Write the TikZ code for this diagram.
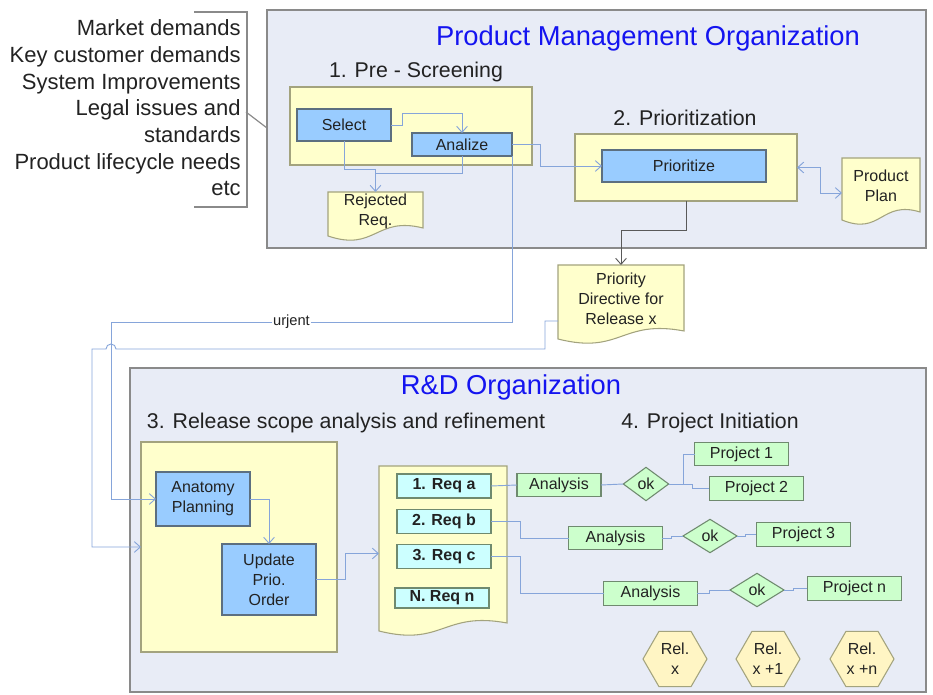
\documentclass[tikz,border=0pt]{standalone}
\usepackage{fontspec}
\setmainfont{Liberation Sans}
\usepackage{xcolor}
\usepackage{tikz}
\usetikzlibrary{shapes.geometric, arrows.meta, calc}
\definecolor{orgfill}{HTML}{E8ECF6}
\definecolor{orgline}{HTML}{8A8A8A}
\definecolor{stagefill}{HTML}{FFFFCC}
\definecolor{stageline}{HTML}{A3A37E}
\definecolor{procfill}{HTML}{99CCFF}
\definecolor{procline}{HTML}{5C6F80}
\definecolor{reqfill}{HTML}{CCFFFF}
\definecolor{taskfill}{HTML}{CCFFCC}
\definecolor{taskline}{HTML}{6F8A6F}
\definecolor{relfill}{HTML}{FFF5C4}
\definecolor{linkblue}{HTML}{86A5DA}
\definecolor{titleblue}{HTML}{1414F0}
\definecolor{ink}{HTML}{222222}
\newcommand{\boxfont}{\fontsize{12}{15}\selectfont}
\pgfdeclarelayer{back}
\pgfdeclarelayer{docs}
\pgfsetlayers{back,docs,main}
\tikzstyle{org} = [rectangle, draw=orgline, fill=orgfill, line width=1pt, inner sep=0pt, outer sep=0pt]
\tikzstyle{stage} = [rectangle, draw=stageline, fill=stagefill, line width=0.8pt, inner sep=0pt, outer sep=0pt]
\tikzstyle{process} = [rectangle, draw=procline, fill=procfill, line width=0.8pt, font=\boxfont, text=ink, align=center, inner sep=0pt, outer sep=0pt]
\tikzstyle{req} = [rectangle, draw=taskline, fill=reqfill, line width=0.8pt, font=\boxfont\bfseries, text=ink, minimum width=70.5pt, minimum height=18pt, inner sep=0pt, outer sep=0pt]
\tikzstyle{task} = [rectangle, draw=taskline, fill=taskfill, line width=0.8pt, font=\boxfont, text=ink, minimum height=17.5pt, inner sep=0pt, outer sep=0pt]
\tikzstyle{check} = [diamond, draw=taskline, fill=taskfill, line width=0.8pt, font=\boxfont, text=ink, minimum width=40.5pt, minimum height=25pt, inner sep=0pt, outer sep=0pt]
\tikzstyle{release} = [regular polygon, regular polygon sides=6, draw=stageline, fill=relfill, line width=0.8pt, font=\boxfont, text=ink, align=center, minimum size=48pt, inner sep=0pt]
\tikzstyle{doc} = [rectangle, font=\boxfont, text=ink, align=center, inner sep=0pt, outer sep=0pt]
\tikzstyle{docshape} = [draw=stageline, fill=stagefill, line width=0.8pt]
\tikzstyle{title} = [font=\fontsize{20.5}{24}\selectfont, text=titleblue, inner sep=0pt]
\tikzstyle{heading} = [font=\fontsize{16}{19}\selectfont, text=ink, inner sep=0pt]
\tikzstyle{tag} = [font=\fontsize{11}{13}\selectfont, text=ink, fill=white, inner sep=1pt]
\tikzstyle{bracket} = [draw=orgline, line width=0.9pt]
\tikzstyle{link} = [linkblue, line width=0.7pt]
\tikzstyle{arrow} = [link, -{Straight Barb[length=4.5pt,width=8pt]}]
\tikzstyle{twoway} = [link, {Straight Barb[length=4.5pt,width=8pt]}-{Straight Barb[length=4.5pt,width=8pt]}]
\tikzstyle{darkarrow} = [draw=black!65, line width=0.7pt, -{Straight Barb[length=4.5pt,width=8pt]}]

\begin{document}
\begin{tikzpicture}[x=0.75pt, y=-0.75pt]
\useasboundingbox (0,0) rectangle (933,695);

% organisations and stages
\begin{pgfonlayer}{back}
\node (pmo) [org, minimum width=494.25pt, minimum height=178.5pt] at (596.5,129) {};
\node (rnd) [org, minimum width=597pt, minimum height=243pt] at (528,530) {};
\node (psbox) [stage, minimum width=181.5pt, minimum height=58.5pt] at (411,126) {};
\node (prbox) [stage, minimum width=166.5pt, minimum height=50.25pt] at (686,167.5) {};
\node (rsbox) [stage, minimum width=147pt, minimum height=157.5pt] at (239,547) {};
\end{pgfonlayer}

\node (pmotitle) [title] at (648,38) {Product Management Organization};
\node (rndtitle) [title] at (511,387) {R\&D Organization};
\node (pslabel) [heading] at (416,72) {1. Pre - Screening};
\node (prlabel) [heading] at (685,118) {2. Prioritization};
\node (rslabel) [heading] at (346,423) {3. Release scope analysis and refinement};
\node (pilabel) [heading] at (710,423) {4. Project Initiation};

% inputs
\node (sources) [anchor=east, align=right, font=\fontsize{16.5}{20}\selectfont, text=ink, inner sep=0pt] at (241,108)
  {Market demands\\Key customer demands\\System Improvements\\Legal issues and\\standards\\Product lifecycle needs\\etc};
\draw [bracket] (194,12) -- (247,12) -- (247,207) -- (194,207);
\draw [bracket] (246,112) -- (pmo.west |- 0,128);

% product management
\node (select) [process, minimum width=70.5pt, minimum height=24pt] at (344,125) {Select};
\node (analize) [process, minimum width=75pt, minimum height=17.25pt] at (462,144.5) {Analize};
\node (rej) [doc, minimum width=71.25pt, minimum height=28.5pt] at (375.5,211) {Rejected\\Req.};
\node (prioritize) [process, minimum width=123pt, minimum height=24pt] at (684,166) {Prioritize};
\node (plan) [doc, minimum width=58.5pt, minimum height=42pt] at (881,186) {Product\\Plan};
\node (directive) [doc, minimum width=94.5pt, minimum height=51pt] at (621,299) {Priority\\Directive for\\Release x};

% R&D
\node (anatomy) [process, minimum width=70.5pt, minimum height=40.5pt] at (203,499) {Anatomy\\Planning};
\node (update) [process, minimum width=70.5pt, minimum height=53.25pt] at (269,579.5) {Update\\Prio.\\Order};
\node (reqdoc) [doc, minimum width=96pt, minimum height=119.25pt] at (443,545.5) {};
\node (reqa) [req] at (444,486) {1. Req a};
\node (reqb) [req] at (444,521.5) {2. Req b};
\node (reqc) [req] at (444,556.5) {3. Req c};
\node (reqn) [req, minimum height=15pt] at (442,598) {N. Req n};

\node (ana1) [task, minimum width=63pt] at (559,485) {Analysis};
\node (ok1) [check, minimum width=34pt] at (646,484) {ok};
\node (p1) [task, minimum width=70pt] at (741.5,454) {Project 1};
\node (p2) [task, minimum width=71pt] at (756.5,488.5) {Project 2};
\node (ana2) [task, minimum width=70pt] at (615.5,538) {Analysis};
\node (ok2) [check] at (710,536) {ok};
\node (p3) [task, minimum width=71pt] at (803.5,534.5) {Project 3};
\node (ana3) [task, minimum width=70pt] at (650.5,593.5) {Analysis};
\node (ok3) [check] at (757,590) {ok};
\node (pn) [task, minimum width=71pt] at (854.5,588.5) {Project n};

\node (relx) [release] at (675,659) {Rel.\\x};
\node (relx1) [release] at (768,659) {Rel.\\x +1};
\node (relxn) [release] at (862,659) {Rel.\\x +n};

% document outlines
\begin{pgfonlayer}{docs}
\foreach \d in {rej,plan,directive,reqdoc}
  \draw [docshape] (\d.north west) -- (\d.north east) -- ($(\d.south east)+(0,-2)$)
    .. controls ($(\d.south)+(0,-14)$) and ($(\d.south)+(0,22)$) .. ($(\d.south west)+(0,6)$) -- cycle;
\end{pgfonlayer}

\draw [arrow] (select.east) -- ++(11,0) |- ($(analize.north)+(0,-20)$) -- (analize.north);
\draw [arrow] (select.south) |- ($(rej.north)+(0,-23)$) -- (rej.north);
\draw [link] (analize.south) |- ($(rej.north)+(0,-19)$);
\draw [arrow] (analize.east) -- ++(28,0) |- (prioritize.west);
\draw [darkarrow] (prbox.south) -- ++(0,29) -| (directive.north);
\draw [twoway] (prbox.east) -- ++(23,0) |- ($(plan.west)+(0,7)$);
\draw [arrow] (analize.south east) -- (512,322) -- node [tag, pos=0.55] {urjent} (111,322) |- (anatomy.west);
\draw [arrow] ($(directive.west)+(0,22)$) -- ++(-13,0) -- (545,349) -- (116,349)
  arc [start angle=0, end angle=180, radius=3.75pt] -- (92,349) |- (rsbox.west);

\draw [arrow] (anatomy.east) -| (update.north);
\draw [arrow] (update.east) -- ++(29,0) |- ($(reqdoc.west)+(0,8)$);
\draw [link] (reqa.east) -- (ana1.west);
\draw [link] (ana1.east) -- (ok1.west);
\draw [link] (ok1.east) -- ++(15,0) |- (p1.west);
\draw [link] (ok1.east) -- ++(24,0) |- (p2.west);
\draw [link] (reqb.east) -- ++(29,0) |- (ana2.west);
\draw [link] (ana2.east) -- ++(9,0) |- (ok2.west);
\draw [link] (ok2.east) -- ++(8,0) |- (p3.west);
\draw [link] (reqc.east) -- ++(29,0) |- (ana3.west);
\draw [link] (ana3.east) -- ++(12,0) |- (ok3.west);
\draw [link] (ok3.east) -- ++(9,0) |- (pn.west);

\end{tikzpicture}
\end{document}
